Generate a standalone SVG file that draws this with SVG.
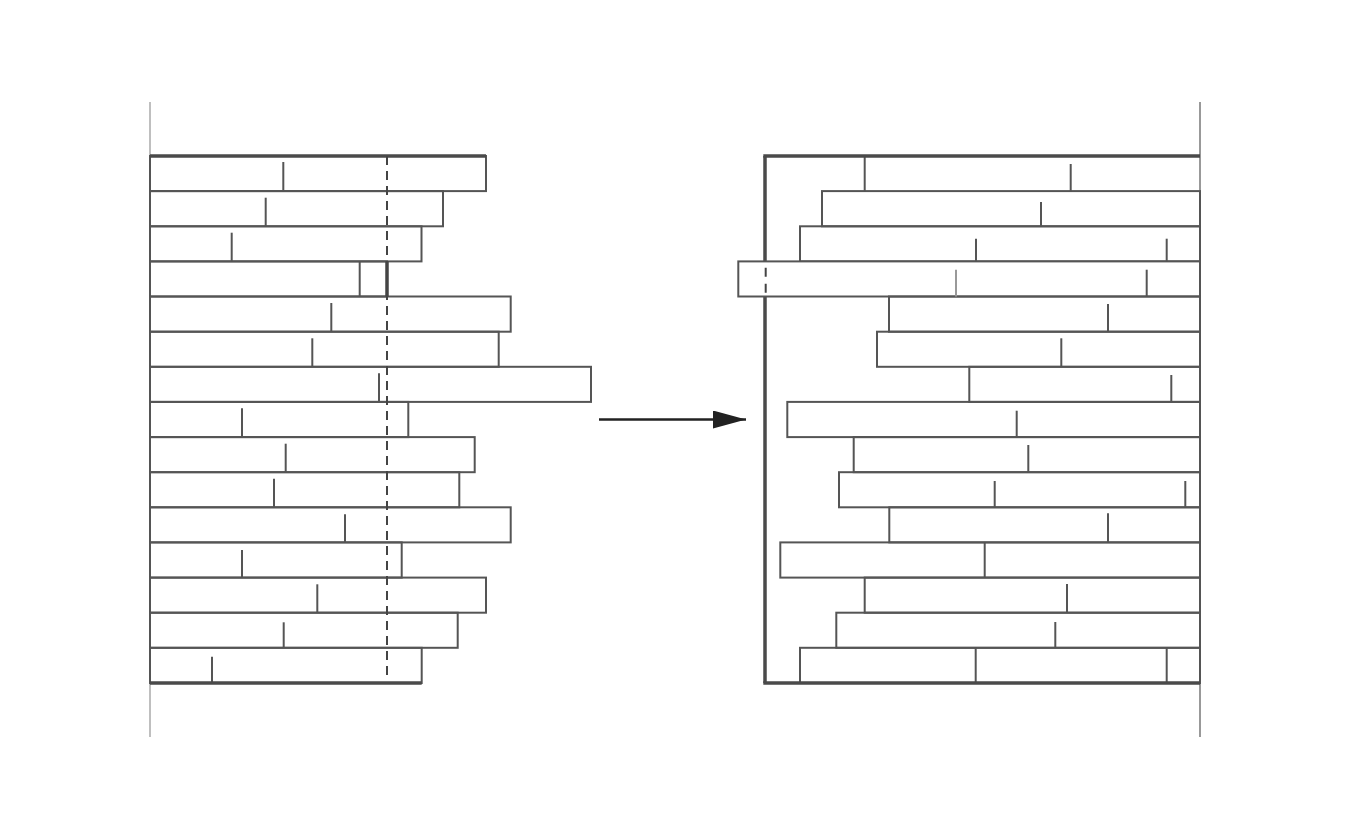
<svg xmlns="http://www.w3.org/2000/svg" width="1350" height="840" viewBox="0 0 1350 840">
<defs>
<style>
.b{fill:none;stroke:#555;stroke-width:2}
.bw{fill:#fff;stroke:#555;stroke-width:2}
.d{stroke:#555;stroke-width:2}
.thick{stroke:#4a4a4a;stroke-width:3.5;fill:none}
.guide{stroke:#aaa;stroke-width:1.5}
.guide2{stroke:#555;stroke-width:1.2}
.cut{stroke:#444;stroke-width:2;stroke-dasharray:9 6}
</style>
<marker id="ah" markerWidth="33" markerHeight="18" refX="33" refY="9" orient="auto" markerUnits="userSpaceOnUse" viewBox="0 0 33 18">
<path d="M0,0 L33,9 L0,18 Z" fill="#222"/>
</marker>
</defs>
<rect width="1350" height="840" fill="#fff"/>

<g id="left-panel">
<line class="guide" x1="150" y1="102" x2="150" y2="737"/>
<rect class="b" x="150" y="156" width="336" height="35.1"/>
<rect class="b" x="150" y="191.1" width="293" height="35.2"/>
<rect class="b" x="150" y="226.3" width="271.5" height="35.1"/>
<rect class="b" x="150" y="261.4" width="237" height="35.1"/>
<rect class="b" x="150" y="296.5" width="360.7" height="35.2"/>
<rect class="b" x="150" y="331.7" width="348.7" height="35.1"/>
<rect class="b" x="150" y="366.8" width="441" height="35.1"/>
<rect class="b" x="150" y="401.9" width="258.3" height="35.2"/>
<rect class="b" x="150" y="437.1" width="324.7" height="35.1"/>
<rect class="b" x="150" y="472.2" width="309.3" height="35.1"/>
<rect class="b" x="150" y="507.3" width="360.7" height="35.1"/>
<rect class="b" x="150" y="542.4" width="251.7" height="35.2"/>
<rect class="b" x="150" y="577.6" width="336" height="35.1"/>
<rect class="b" x="150" y="612.7" width="307.7" height="35.1"/>
<rect class="b" x="150" y="647.8" width="271.7" height="35.2"/>
<line class="d" x1="283.3" y1="162" x2="283.3" y2="191.1"/>
<line class="d" x1="265.7" y1="197.7" x2="265.7" y2="226.3"/>
<line class="d" x1="231.7" y1="232.7" x2="231.7" y2="261.4"/>
<line class="d" x1="359.7" y1="261.4" x2="359.7" y2="296.5"/>
<line x1="387" y1="261.4" x2="387" y2="296.5" stroke="#444" stroke-width="3.5"/>
<line class="d" x1="331.3" y1="303" x2="331.3" y2="331.7"/>
<line class="d" x1="312.3" y1="338.3" x2="312.3" y2="366.8"/>
<line class="d" x1="379" y1="373.3" x2="379" y2="401.9"/>
<line class="d" x1="242" y1="408.3" x2="242" y2="437.1"/>
<line class="d" x1="285.7" y1="443.7" x2="285.7" y2="472.2"/>
<line class="d" x1="274" y1="478.7" x2="274" y2="507.3"/>
<line class="d" x1="345" y1="514.3" x2="345" y2="542.4"/>
<line class="d" x1="242" y1="550" x2="242" y2="577.6"/>
<line class="d" x1="317.3" y1="584.3" x2="317.3" y2="612.7"/>
<line class="d" x1="283.7" y1="622.3" x2="283.7" y2="647.8"/>
<line class="d" x1="212" y1="656.7" x2="212" y2="683"/>
<line class="thick" x1="150" y1="156" x2="486" y2="156"/>
<line class="thick" x1="150" y1="683" x2="421.7" y2="683"/>
<line class="cut" x1="387" y1="156" x2="387" y2="679"/>
</g>

<g id="right-panel">
<line class="guide2" x1="1200" y1="102" x2="1200" y2="737"/>
<line class="thick" x1="765" y1="156" x2="765" y2="683"/>
<rect class="b" x="822" y="191.1" width="378" height="35.2"/>
<rect class="b" x="800" y="226.3" width="400" height="35.1"/>
<rect class="bw" x="738.3" y="261.4" width="461.7" height="35.1"/>
<rect class="b" x="889" y="296.5" width="311" height="35.2"/>
<rect class="b" x="877" y="331.7" width="323" height="35.1"/>
<rect class="b" x="969.3" y="366.8" width="230.7" height="35.1"/>
<rect class="b" x="787.3" y="401.9" width="412.7" height="35.2"/>
<rect class="b" x="853.7" y="437.1" width="346.3" height="35.1"/>
<rect class="b" x="839" y="472.2" width="361" height="35.1"/>
<rect class="b" x="889.3" y="507.3" width="310.7" height="35.1"/>
<rect class="b" x="780.3" y="542.4" width="419.7" height="35.2"/>
<rect class="b" x="864.7" y="577.6" width="335.3" height="35.1"/>
<rect class="b" x="836.3" y="612.7" width="363.7" height="35.1"/>
<rect class="b" x="800" y="647.8" width="400" height="35.2"/>
<line class="d" x1="864.7" y1="156" x2="864.7" y2="191.1"/>
<line class="d" x1="1070.7" y1="164" x2="1070.7" y2="191.1"/>
<line class="d" x1="1041" y1="202" x2="1041" y2="226.3"/>
<line class="d" x1="976" y1="238.7" x2="976" y2="261.4"/>
<line class="d" x1="1166.7" y1="238.7" x2="1166.7" y2="261.4"/>
<line x1="956" y1="269.7" x2="956" y2="296.5" stroke="#999" stroke-width="2"/>
<line class="d" x1="1146.7" y1="269.7" x2="1146.7" y2="296.5"/>
<line x1="765.7" y1="267.7" x2="765.7" y2="293" stroke="#444" stroke-width="2" stroke-dasharray="9 7"/>
<line class="d" x1="1108" y1="304" x2="1108" y2="331.7"/>
<line class="d" x1="1061.3" y1="338.3" x2="1061.3" y2="366.8"/>
<line class="d" x1="1171.3" y1="375" x2="1171.3" y2="401.9"/>
<line class="d" x1="1016.7" y1="410.7" x2="1016.7" y2="437.1"/>
<line class="d" x1="1028.3" y1="445" x2="1028.3" y2="472.2"/>
<line class="d" x1="994.7" y1="481" x2="994.7" y2="507.3"/>
<line class="d" x1="1185.3" y1="481" x2="1185.3" y2="507.3"/>
<line class="d" x1="1108" y1="513.3" x2="1108" y2="542.4"/>
<line class="d" x1="984.7" y1="542.4" x2="984.7" y2="577.6"/>
<line class="d" x1="1067" y1="584" x2="1067" y2="612.7"/>
<line class="d" x1="1055.3" y1="622" x2="1055.3" y2="647.8"/>
<line class="d" x1="975.7" y1="647.8" x2="975.7" y2="683"/>
<line class="d" x1="1166.7" y1="647.8" x2="1166.7" y2="683"/>
<line class="thick" x1="763.3" y1="156" x2="1200" y2="156"/>
<line class="thick" x1="763.3" y1="683" x2="1200" y2="683"/>
</g>

<g id="connectors">
<line x1="599" y1="419.5" x2="746" y2="419.5" stroke="#222" stroke-width="2.5" marker-end="url(#ah)"/>
</g>
</svg>
